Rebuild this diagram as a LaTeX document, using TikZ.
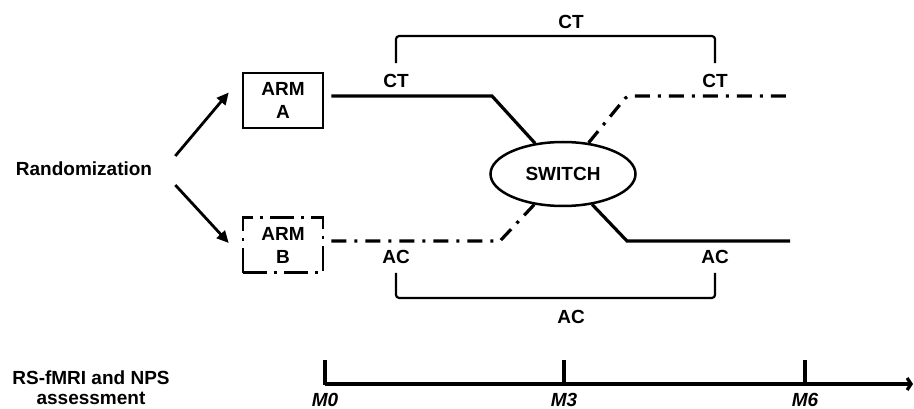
\documentclass[tikz,border=0pt]{standalone}
\usepackage{fontspec}
\setmainfont{Liberation Sans}
\usetikzlibrary{arrows.meta,shapes.geometric}

\begin{document}
\begin{tikzpicture}[x=1pt,y=-1pt,>={Triangle[length=12pt,width=11pt]},
  lbl/.style={font=\fontsize{19}{23}\selectfont\bfseries,inner sep=1pt},
  armbox/.style={lbl,draw,line width=2.5pt,minimum width=80pt,minimum height=55pt,align=center},
  dashdot/.style={dash pattern=on 15pt off 8pt on 3pt off 8pt},
  track/.style={line width=3.2pt},
  brace/.style={line width=2.2pt,rounded corners=3pt},
  mlbl/.style={lbl,font=\fontsize{19}{23}\selectfont\bfseries\itshape}]
  \useasboundingbox (0,0) rectangle (914,409);
  % randomization and the two arms
  \node[lbl] (rand) at (84,169) {Randomization};
  \node[armbox] (armA) at (283,100.5) {ARM\\A};
  \node[armbox,dash pattern=on 24pt off 7pt on 3pt off 7pt] (armB) at (283,245) {ARM\\B};
  \draw[->,line width=2.8pt] ([shift={(22,-13)}]rand.east) -- ([shift={(-13,-8)}]armA.west);
  \draw[->,line width=2.8pt] ([shift={(22,16)}]rand.east) -- ([shift={(-13,-2)}]armB.west);

  % switch
  \node[lbl,draw,ellipse,line width=2.5pt,minimum width=145pt,minimum height=64pt] (switch) at (563,174) {SWITCH};
  \coordinate (ctbend) at (492,96);
  \coordinate (acbend) at (500,241);
  \coordinate (ctup) at (627,96);
  \coordinate (acdown) at (627,241);
  \coordinate (ctend) at (792,96);
  \coordinate (acend) at (790,241);
  \draw[track] ([shift={(7,-4.5)}]armA.east) -- (ctbend) -- (switch);
  \draw[track,dashdot] ([shift={(7,-4)}]armB.east) -- (acbend) -- (switch);
  \draw[track,dashdot,rounded corners=3pt] (switch) -- (ctup) -- (ctend);
  \draw[track] (switch) -- (acdown) -- (acend);

  % labels and brackets
  \node[lbl] (ctL) at (396,81) {CT};
  \node[lbl] (ctR) at (715,81) {CT};
  \node[lbl] (acL) at (396,257) {AC};
  \node[lbl] (acR) at (715,257) {AC};
  \node[lbl] (ctTop) at (571,22) {CT};
  \node[lbl] (acBot) at (571,317) {AC};
  \draw[brace] ([yshift=10pt]ctL.north) -- ++(0,-27) -| ([yshift=10pt]ctR.north);
  \draw[brace] ([yshift=-8pt]acL.south) -- ++(0,25) -| ([yshift=-8pt]acR.south);

  % timeline
  \node[lbl,font=\fontsize{19}{20}\selectfont\bfseries,align=center] (assess) at (91,388) {RS-fMRI and NPS\\assessment};
  \node[mlbl] (m0) at (325,399.5) {M0};
  \node[mlbl] (m3) at (564,399.5) {M3};
  \node[mlbl] (m6) at (805,399.5) {M6};
  \coordinate (tend) at (913,384);
  \draw[track,-{Straight Barb[length=4pt,width=12pt]}] (325,384) -- (tend);
  \foreach \t in {325,564,805}
    \draw[track] (\t,385) -- (\t,360);
\end{tikzpicture}
\end{document}
